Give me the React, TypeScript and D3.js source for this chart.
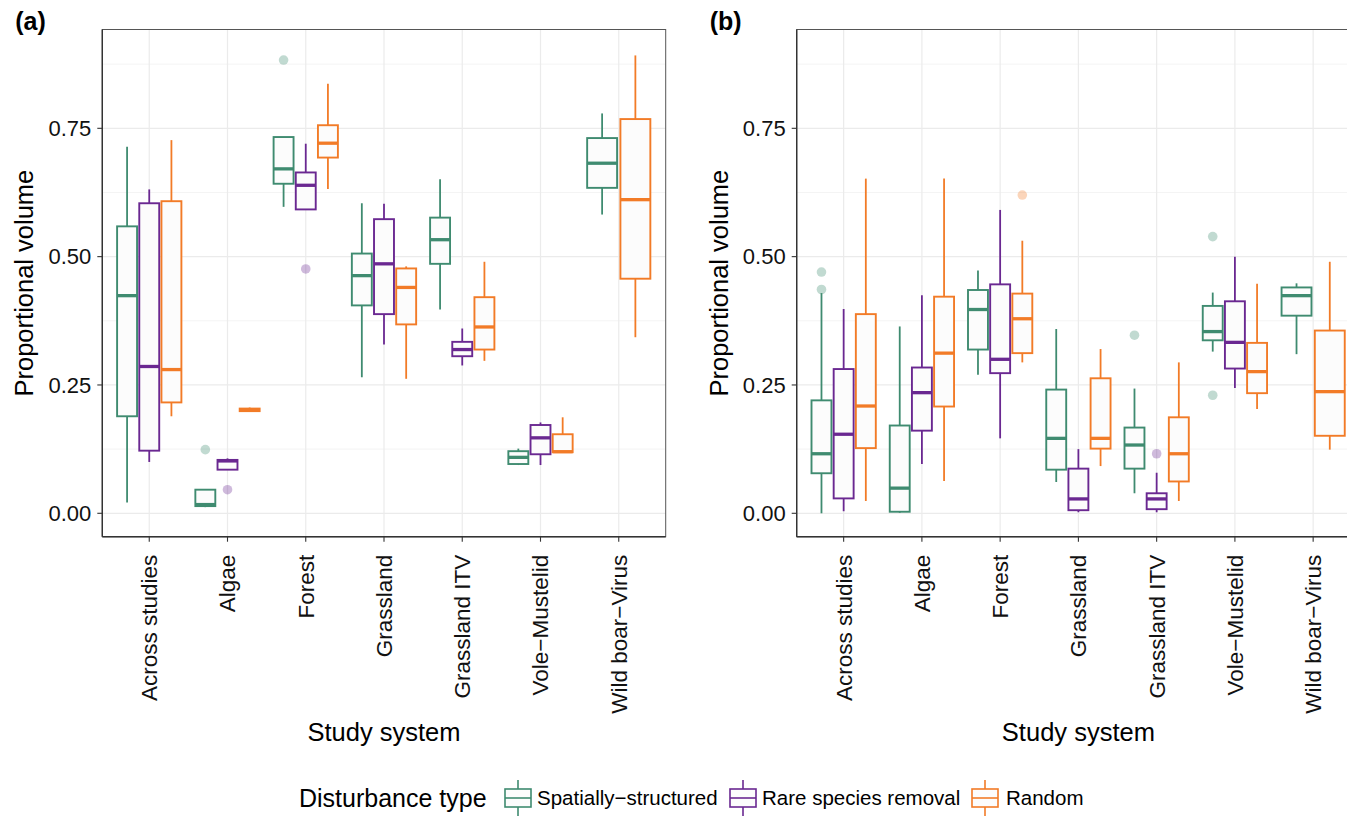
import * as d3 from 'd3'

// study systems on the x axis
const categories = [
  'Across studies',
  'Algae',
  'Forest',
  'Grassland',
  'Grassland ITV',
  'Vole−Mustelid',
  'Wild boar−Virus',
]
const seriesNames = ['Spatially−structured', 'Rare species removal', 'Random']
const seriesColors = ['#3f8b70', '#6a2891', '#f27b27']
const yTicks = [0, 0.25, 0.5, 0.75]
const yMinor = [0.125, 0.375, 0.625, 0.875]

// box stats per category: [lower whisker, q1, median, q3, upper whisker]
const aSpatial = [
  [0.021, 0.189, 0.424, 0.559, 0.714],
  [0.012, 0.014, 0.017, 0.046, 0.046],
  [0.597, 0.642, 0.671, 0.733, 0.733],
  [0.265, 0.405, 0.463, 0.506, 0.604],
  [0.397, 0.486, 0.533, 0.576, 0.651],
  [0.094, 0.096, 0.109, 0.121, 0.126],
  [0.582, 0.634, 0.682, 0.731, 0.779],
]
const aRare = [
  [0.1, 0.122, 0.286, 0.604, 0.631],
  [0.085, 0.085, 0.102, 0.104, 0.107],
  [0.592, 0.592, 0.639, 0.664, 0.72],
  [0.329, 0.388, 0.486, 0.573, 0.603],
  [0.288, 0.306, 0.319, 0.334, 0.36],
  [0.094, 0.115, 0.147, 0.172, 0.177],
  null,
]
const aRandom = [
  [0.189, 0.216, 0.28, 0.608, 0.727],
  [0.199, 0.199, 0.201, 0.204, 0.206],
  [0.632, 0.693, 0.721, 0.756, 0.837],
  [0.262, 0.368, 0.44, 0.477, 0.481],
  [0.297, 0.319, 0.363, 0.421, 0.49],
  [0.119, 0.119, 0.12, 0.154, 0.187],
  [0.343, 0.457, 0.611, 0.768, 0.892],
]
// outliers: [category index, series index, value]
const aOutliers = [
  [1, 0, 0.124],
  [1, 1, 0.046],
  [2, 0, 0.883],
  [2, 1, 0.476],
]

const bSpatial = [
  [0.0, 0.078, 0.116, 0.22, 0.429],
  [0.001, 0.003, 0.049, 0.171, 0.364],
  [0.27, 0.319, 0.397, 0.435, 0.473],
  [0.061, 0.085, 0.146, 0.241, 0.359],
  [0.039, 0.087, 0.133, 0.167, 0.243],
  [0.315, 0.337, 0.354, 0.404, 0.43],
  [0.31, 0.385, 0.424, 0.44, 0.448],
]
const bRare = [
  [0.004, 0.029, 0.154, 0.281, 0.398],
  [0.096, 0.161, 0.235, 0.284, 0.425],
  [0.146, 0.273, 0.3, 0.446, 0.591],
  [0.002, 0.006, 0.028, 0.087, 0.125],
  [0.002, 0.008, 0.028, 0.039, 0.079],
  [0.244, 0.282, 0.333, 0.413, 0.5],
  null,
]
const bRandom = [
  [0.024, 0.127, 0.209, 0.388, 0.652],
  [0.063, 0.208, 0.312, 0.422, 0.652],
  [0.294, 0.312, 0.379, 0.428, 0.531],
  [0.092, 0.126, 0.146, 0.263, 0.32],
  [0.024, 0.062, 0.116, 0.187, 0.294],
  [0.203, 0.234, 0.276, 0.332, 0.447],
  [0.124, 0.151, 0.237, 0.356, 0.49],
]
const bOutliers = [
  [0, 0, 0.47],
  [0, 0, 0.436],
  [2, 2, 0.62],
  [4, 0, 0.347],
  [4, 1, 0.116],
  [5, 0, 0.539],
  [5, 0, 0.23],
]

const FONT = 'Liberation Sans, Arial, Helvetica, sans-serif'
const TOP = 29.5
const BOTTOM = 536.7

const y = d3.scaleLinear().domain([-0.0456, 0.9425]).range([BOTTOM, TOP])

function Panel({ x0, x1, tag, stats, outliers }) {
  const x = d3.scalePoint().domain(categories).range([x0, x1]).padding(0.6)
  const step = x.step()

  // dodge positions for the boxes present in each category
  const boxes = []
  categories.forEach((c, ci) => {
    const present = stats.map((s, si) => (s[ci] ? si : -1)).filter((si) => si >= 0)
    const slot = (step * 0.85) / present.length
    present.forEach((si, k) => {
      const cx = x(c) + (k - (present.length - 1) / 2) * slot
      boxes.push({ ci, si, cx, w: slot * 0.9, s: stats[si][ci] })
    })
  })
  const findBox = (ci, si) => boxes.find((b) => b.ci === ci && b.si === si)

  return (
    <g>
      <rect x={x0} y={TOP} width={x1 - x0} height={BOTTOM - TOP} fill='#fff' />
      {yMinor.map((t) => (
        <line key={'m' + t} x1={x0} x2={x1} y1={y(t)} y2={y(t)} stroke='#ebebeb' strokeWidth={0.6} />
      ))}
      {yTicks.map((t) => (
        <line key={'g' + t} x1={x0} x2={x1} y1={y(t)} y2={y(t)} stroke='#ebebeb' strokeWidth={1.2} />
      ))}
      {categories.map((c) => (
        <line key={'v' + c} x1={x(c)} x2={x(c)} y1={TOP} y2={BOTTOM} stroke='#ebebeb' strokeWidth={1.2} />
      ))}

      {boxes.map((b) => {
        const col = seriesColors[b.si]
        const [lo, q1, med, q3, hi] = b.s
        return (
          <g key={b.ci + '-' + b.si}>
            <line x1={b.cx} x2={b.cx} y1={y(hi)} y2={y(q3)} stroke={col} strokeWidth={1.8} />
            <line x1={b.cx} x2={b.cx} y1={y(q1)} y2={y(lo)} stroke={col} strokeWidth={1.8} />
            <rect
              x={b.cx - b.w / 2}
              y={y(q3)}
              width={b.w}
              height={Math.max(0.5, y(q1) - y(q3))}
              fill='#fcfcfc'
              stroke={col}
              strokeWidth={1.9}
            />
            <line x1={b.cx - b.w / 2} x2={b.cx + b.w / 2} y1={y(med)} y2={y(med)} stroke={col} strokeWidth={3.3} />
          </g>
        )
      })}
      {outliers.map(([ci, si, v], i) => {
        const b = findBox(ci, si)
        return <circle key={'o' + i} cx={b.cx} cy={y(v)} r={4.8} fill={seriesColors[si]} fillOpacity={0.32} />
      })}

      <rect x={x0} y={TOP} width={x1 - x0} height={BOTTOM - TOP} fill='none' stroke='#555' strokeWidth={1} />
      <line x1={x0} x2={x0} y1={TOP} y2={BOTTOM} stroke='#333' strokeWidth={1.4} />
      <line x1={x0} x2={x1} y1={BOTTOM} y2={BOTTOM} stroke='#333' strokeWidth={1.4} />

      {yTicks.map((t) => (
        <g key={'t' + t}>
          <line x1={x0 - 5} x2={x0} y1={y(t)} y2={y(t)} stroke='#333' strokeWidth={1.1} />
          <text x={x0 - 11} y={y(t)} dy='0.35em' textAnchor='end' fontSize={22} fill='#111'>
            {d3.format('.2f')(t)}
          </text>
        </g>
      ))}
      {categories.map((c) => (
        <g key={'x' + c}>
          <line x1={x(c)} x2={x(c)} y1={BOTTOM} y2={BOTTOM + 5} stroke='#333' strokeWidth={1.1} />
          <text
            transform={`translate(${x(c)},${BOTTOM + 18}) rotate(-90)`}
            dy='0.35em'
            textAnchor='end'
            fontSize={22.5}
            fill='#111'
          >
            {c}
          </text>
        </g>
      ))}

      <text x={x0 - 87} y={30} fontSize={25} fontWeight='bold' fill='#000'>
        {tag}
      </text>
      <text
        transform={`translate(${x0 - 69},${(TOP + BOTTOM) / 2}) rotate(-90)`}
        textAnchor='middle'
        fontSize={25.5}
        fill='#000'
      >
        Proportional volume
      </text>
      <text x={(x0 + x1) / 2} y={741} textAnchor='middle' fontSize={25.5} fill='#000'>
        Study system
      </text>
    </g>
  )
}

function LegendKey({ x, color }) {
  return (
    <g>
      <line x1={x + 13} x2={x + 13} y1={780} y2={816} stroke={color} strokeWidth={1.6} />
      <rect x={x} y={789} width={26} height={18} fill='#fcfcfc' stroke={color} strokeWidth={1.6} />
      <line x1={x} x2={x + 26} y1={798} y2={798} stroke={color} strokeWidth={1.6} />
    </g>
  )
}

export default function App() {
  const keyX = [505, 730, 972]
  const labelX = [537, 762, 1006]
  return (
    <svg
      width={1347}
      height={817}
      style={{ position: 'absolute', left: 0, top: 0, fontFamily: FONT, background: '#fff' }}
    >
      <Panel x0={102.3} x1={665.7} tag='(a)' stats={[aSpatial, aRare, aRandom]} outliers={aOutliers} />
      <Panel x0={796.7} x1={1360.1} tag='(b)' stats={[bSpatial, bRare, bRandom]} outliers={bOutliers} />

      <text x={299} y={798} dy='0.35em' fontSize={25} fill='#000'>
        Disturbance type
      </text>
      {seriesNames.map((s, i) => (
        <g key={s}>
          <LegendKey x={keyX[i]} color={seriesColors[i]} />
          <text x={labelX[i]} y={798} dy='0.35em' fontSize={20.5} fill='#000'>
            {s}
          </text>
        </g>
      ))}
    </svg>
  )
}
